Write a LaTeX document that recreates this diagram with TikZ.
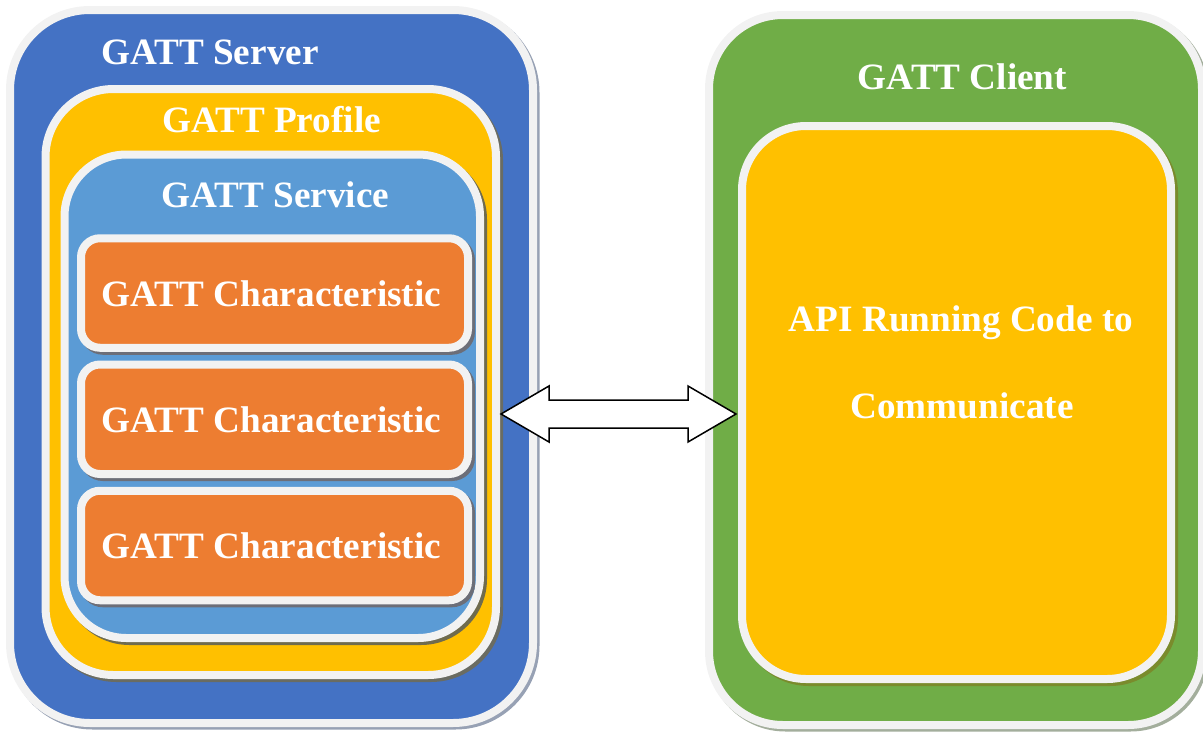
\documentclass[tikz,border=0pt]{standalone}
\usepackage{fontspec}
\setmainfont{Liberation Serif}
\definecolor{srvblue}{HTML}{4472C4}
\definecolor{prfyellow}{HTML}{FFC000}
\definecolor{svcblue}{HTML}{5B9BD5}
\definecolor{chrorange}{HTML}{ED7D31}
\definecolor{cltgreen}{HTML}{70AD47}
\definecolor{rimgray}{HTML}{F2F2F2}
\definecolor{srvshadow}{HTML}{97A1B4}
\definecolor{prfshadow}{HTML}{6A6C62}
\definecolor{svcshadow}{HTML}{6F6B4E}
\definecolor{chrshadow}{HTML}{6C6E78}
\definecolor{cltshadow}{HTML}{A3AE9C}
\definecolor{apishadow}{HTML}{7A8B2C}
\tikzset{
  panel/.style={rectangle, draw=rimgray, line width=8pt, inner sep=0pt},
  dropshade/.style 2 args={preaction={draw=#1, fill=#1,
      transform canvas={xshift=#2, yshift=-#2}}},
  caption/.style={text=white, anchor=base, inner sep=0pt,
      font=\fontsize{37.2}{44}\selectfont\bfseries},
  linkarrow/.style={draw=black, fill=white, line width=1.5pt, line join=miter},
}
\begin{document}
\begin{tikzpicture}[x=1pt,y=-1pt]
\useasboundingbox (0,0) rectangle (1203,734);
\clip (0,0) rectangle (1203,734);

% server side: nested containers
\node[panel, fill=srvblue, rounded corners=80pt, dropshade={srvshadow}{2.5pt},
      minimum width=523pt, minimum height=713pt] (server) at (271.5,366.5) {};
\node[panel, fill=prfyellow, rounded corners=68pt, dropshade={prfshadow}{3pt},
      minimum width=450.5pt, minimum height=586pt] (profile) at (270.75,382) {};
\node[panel, fill=svcblue, rounded corners=62pt, dropshade={svcshadow}{3pt},
      minimum width=415.5pt, minimum height=483.5pt] (service) at (272.25,396.25) {};
\node[panel, fill=chrorange, rounded corners=19pt, dropshade={chrshadow}{3pt},
      minimum width=387pt, minimum height=109.5pt] (char1) at (274.5,293) {};
\node[panel, fill=chrorange, rounded corners=19pt, dropshade={chrshadow}{3pt},
      minimum width=387pt, minimum height=109.5pt] (char2) at (274.5,419.25) {};
\node[panel, fill=chrorange, rounded corners=19pt, dropshade={chrshadow}{3pt},
      minimum width=387pt, minimum height=109.5pt] (char3) at (274.5,545.5) {};

\node[caption] (serverlbl)  at (210,64)    {GATT Server};
\node[caption] (profilelbl) at (271.5,132) {GATT Profile};
\node[caption] (servicelbl) at (275.5,207) {GATT Service};
\node[caption] (char1lbl)   at (271.5,306) {GATT Characteristic};
\node[caption] (char2lbl)   at (271.5,432.5) {GATT Characteristic};
\node[caption] (char3lbl)   at (271.5,558.5) {GATT Characteristic};

% client side
\node[panel, fill=cltgreen, rounded corners=74pt, dropshade={cltshadow}{2.5pt},
      minimum width=493pt, minimum height=710pt] (client) at (955.5,370) {};
\node[panel, fill=prfyellow, rounded corners=64pt, dropshade={apishadow}{3pt},
      minimum width=429pt, minimum height=553pt] (api) at (956.5,402.5) {};

\node[caption] (clientlbl) at (962.5,89) {GATT Client};
\node[caption] (apilbl1)   at (961,331)  {API Running Code to};
\node[caption] (apilbl2)   at (962,418)  {Communicate};

% two-way link between server and client
\coordinate (tipL) at (501,414);
\coordinate (tipR) at (736,414);
\draw[linkarrow] (tipL) -- ++(48,-28) -- ++(0,14) -- ++(139,0) -- ++(0,-14)
  -- (tipR) -- ++(-48,28) -- ++(0,-14) -- ++(-139,0) -- ++(0,14) -- cycle;
\end{tikzpicture}
\end{document}
